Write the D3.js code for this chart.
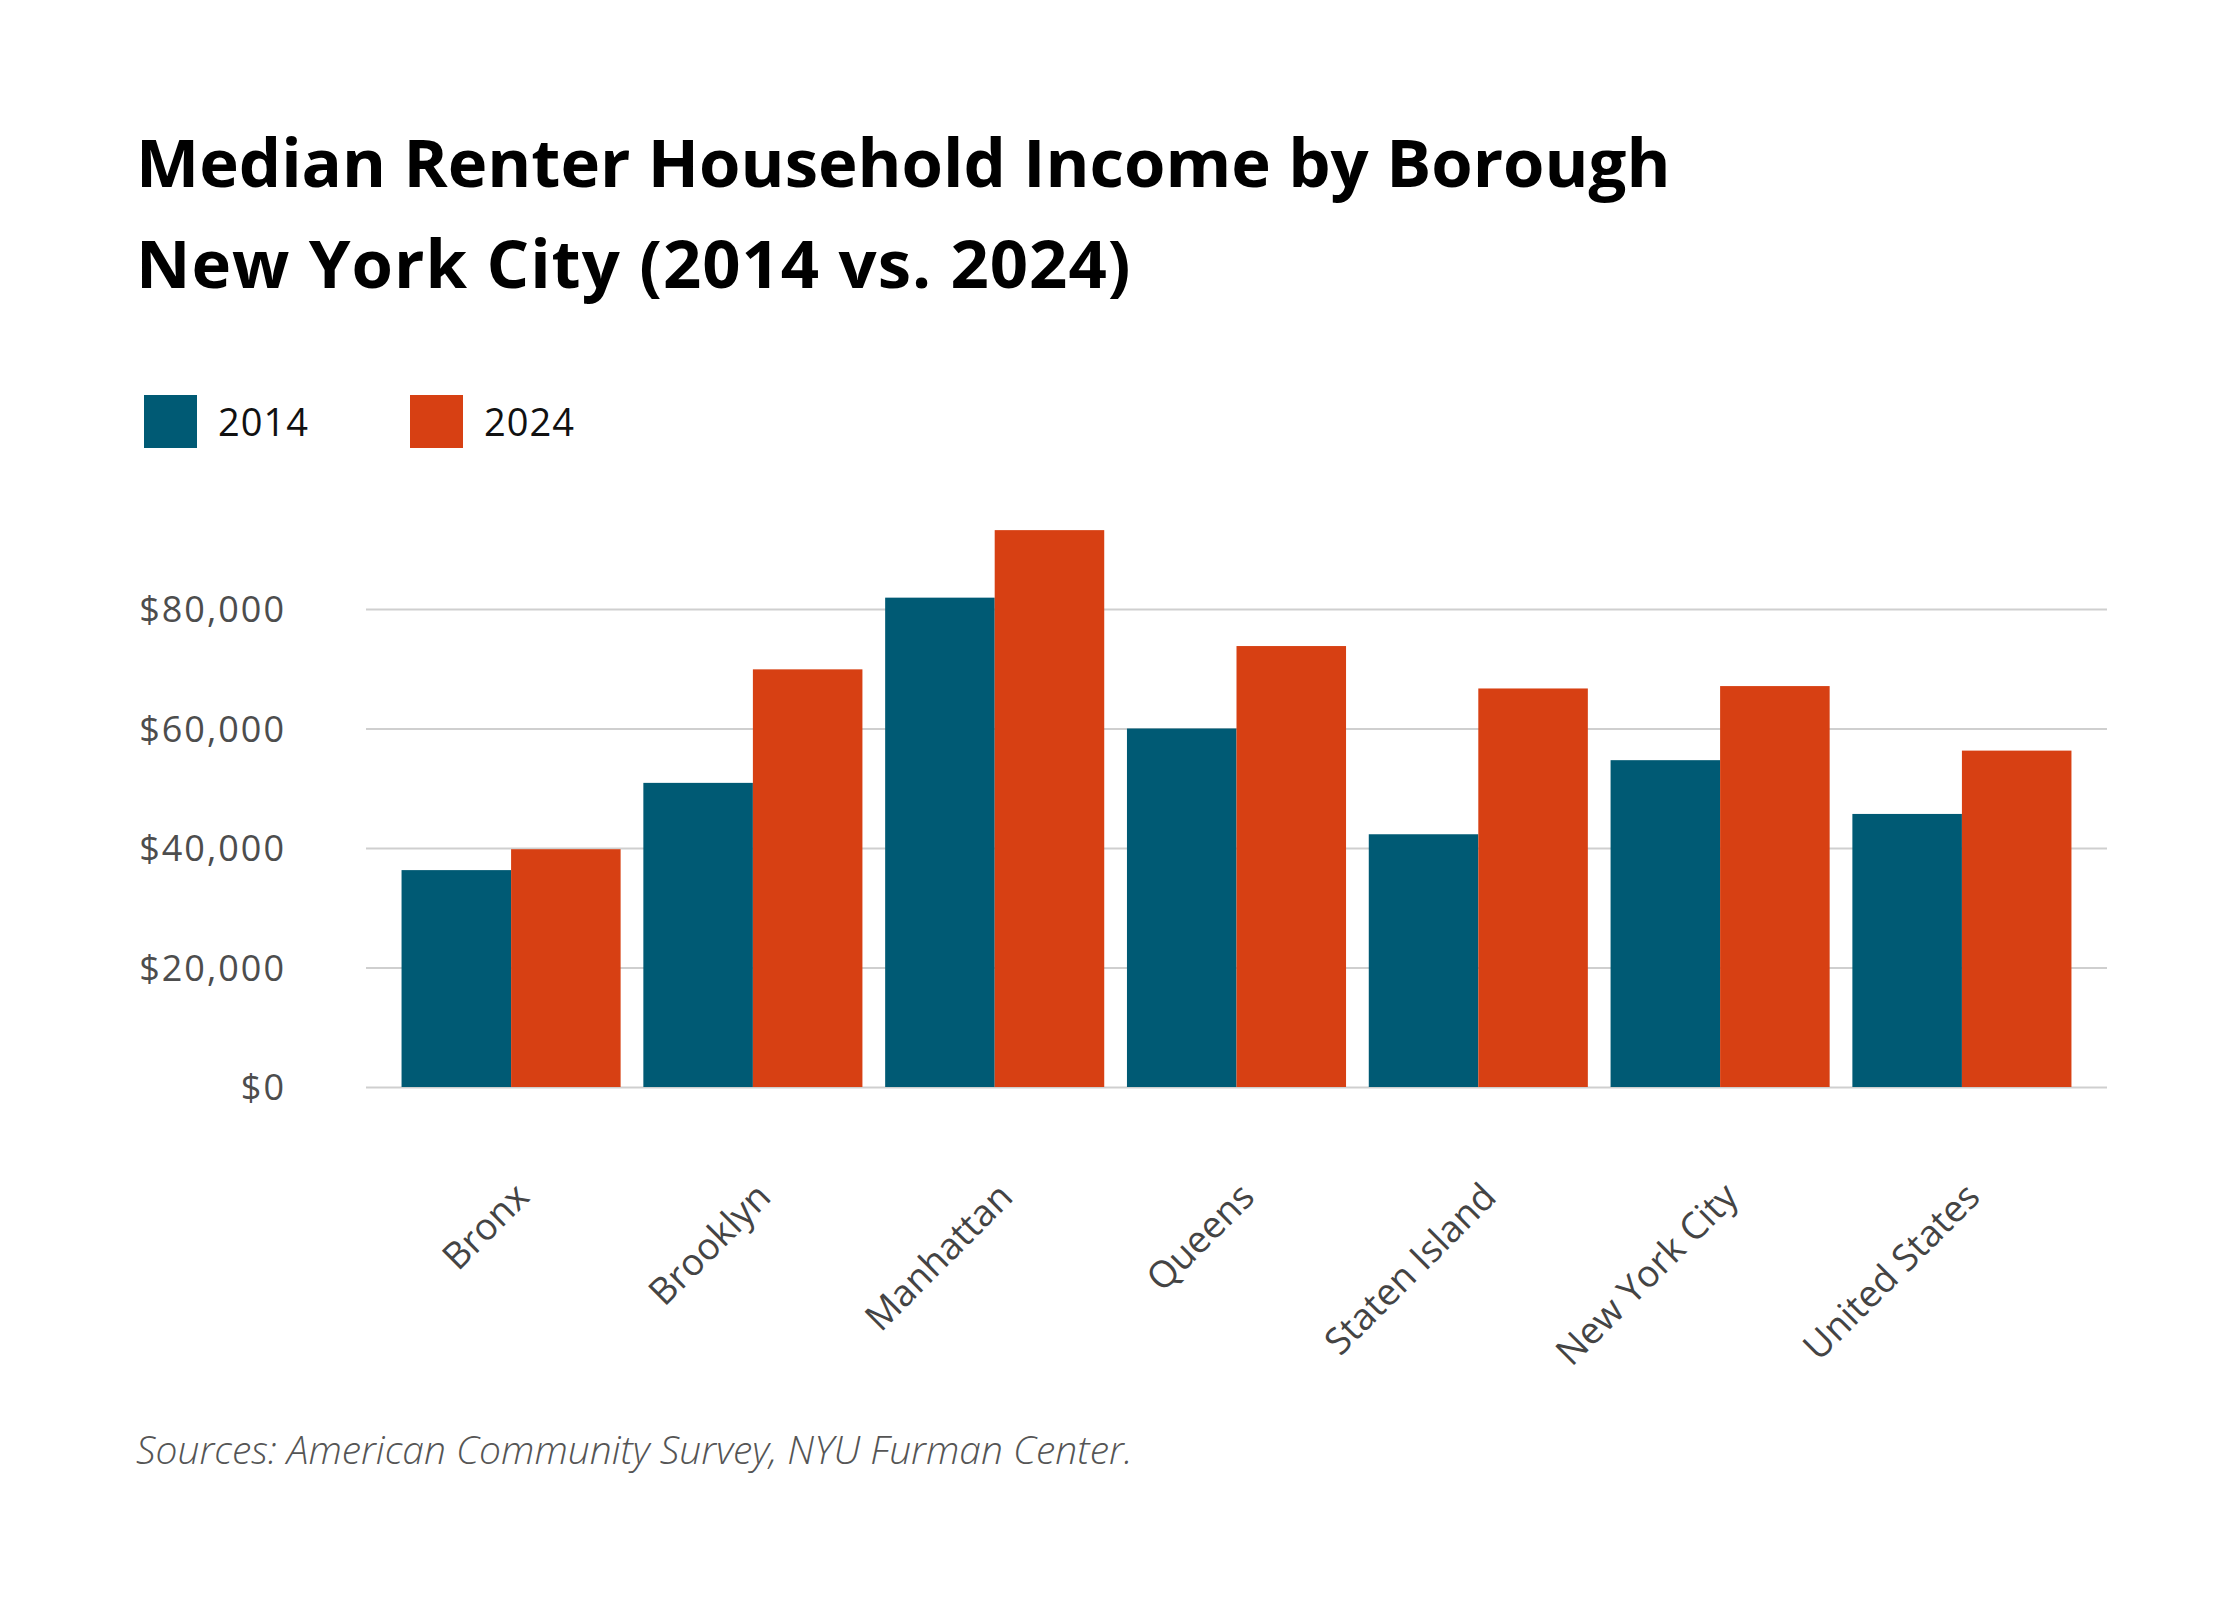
<!DOCTYPE html>
<html>
<head>
<meta charset="utf-8">
<title>Median Renter Household Income by Borough</title>
<style>
  body { margin: 0; background: #fff; }
  svg text { font-family: "Open Sans", sans-serif; }
</style>
</head>
<body>
<svg id="chart" width="2240" height="1600"></svg>
<script src="https://cdn.jsdelivr.net/npm/d3@7/dist/d3.min.js"></script>
<script>
// data
const boroughs = ["Bronx", "Brooklyn", "Manhattan", "Queens", "Staten Island", "New York City", "United States"];
const years = ["2014", "2024"];
const income2014 = [36300, 50900, 81900, 60000, 42300, 54700, 45700];
const income2024 = [39800, 69900, 93200, 73800, 66700, 67100, 56300];
const yTicks = [0, 20000, 40000, 60000, 80000];
const colors = ["#005a74", "#d74013"];

const rows = boroughs.map((b, i) => ({ name: b, values: [income2014[i], income2024[i]] }));

const svg = d3.select("#chart");

// layout
const left = 366, right = 2107;
const baseY = 1087, topY = 609;

const x0 = d3.scaleBand().domain(boroughs).range([left, right])
  .paddingInner(0.094).paddingOuter(0.147);
const x1 = d3.scaleBand().domain(years).range([0, x0.bandwidth()]);
const y = d3.scaleLinear().domain([0, 80000]).range([baseY, topY]);

// title
svg.append("text").attr("x", 136).attr("y", 187)
  .style("font-size", "67px").style("font-weight", 700).attr("fill", "#000")
  .text("Median Renter Household Income by Borough");
svg.append("text").attr("x", 136).attr("y", 288)
  .style("font-size", "67px").style("font-weight", 700).attr("fill", "#000")
  .style("letter-spacing", "1px")
  .text("New York City (2014 vs. 2024)");

// legend
const legend = svg.append("g").selectAll("g")
  .data(years)
  .join("g")
  .attr("transform", (d, i) => `translate(${144 + i * 266},395)`);
legend.append("rect").attr("width", 53).attr("height", 53).attr("fill", (d, i) => colors[i]);
legend.append("text").attr("x", 74).attr("y", 41)
  .style("font-size", "38px").attr("fill", "#111").style("letter-spacing", "1px")
  .text(d => d);

// gridlines + y labels
const yAxis = svg.append("g")
  .attr("transform", `translate(${left},0)`)
  .call(d3.axisLeft(y).tickValues(yTicks).tickSize(-(right - left))
    .tickFormat(d => "$" + d3.format(",")(d)));
yAxis.select(".domain").remove();
yAxis.selectAll(".tick line").attr("stroke", "#cfcfcf").attr("stroke-width", 2);
yAxis.selectAll(".tick text")
  .attr("x", -80).attr("dy", "0.36em")
  .style("font-size", "36px").style("letter-spacing", "2px").attr("fill", "#4d4d4d")
  .style("font-family", "'Open Sans', sans-serif");

// bars
svg.append("g").selectAll("g")
  .data(rows)
  .join("g")
  .attr("transform", d => `translate(${x0(d.name)},0)`)
  .selectAll("rect")
  .data(d => d.values.map((v, i) => ({ key: years[i], value: v, i: i })))
  .join("rect")
  .attr("x", d => x1(d.key))
  .attr("y", d => y(d.value))
  .attr("width", x1.bandwidth())
  .attr("height", d => baseY - y(d.value))
  .attr("fill", d => colors[d.i]);

// x labels
const xAxis = svg.append("g")
  .attr("transform", `translate(0,${baseY})`)
  .call(d3.axisBottom(x0).tickSize(0));
xAxis.select(".domain").remove();
xAxis.selectAll(".tick text")
  .attr("transform", "translate(20,112) rotate(-45)")
  .attr("x", 0).attr("y", 0).attr("dy", 0)
  .style("text-anchor", "end")
  .style("font-size", "37px").attr("fill", "#444")
  .style("font-family", "'Open Sans', sans-serif");

// source
svg.append("text").attr("x", 136).attr("y", 1464)
  .style("font-size", "39px").style("font-style", "italic").style("font-weight", 300)
  .attr("fill", "#555")
  .text("Sources: American Community Survey, NYU Furman Center.");
</script>
</body>
</html>
